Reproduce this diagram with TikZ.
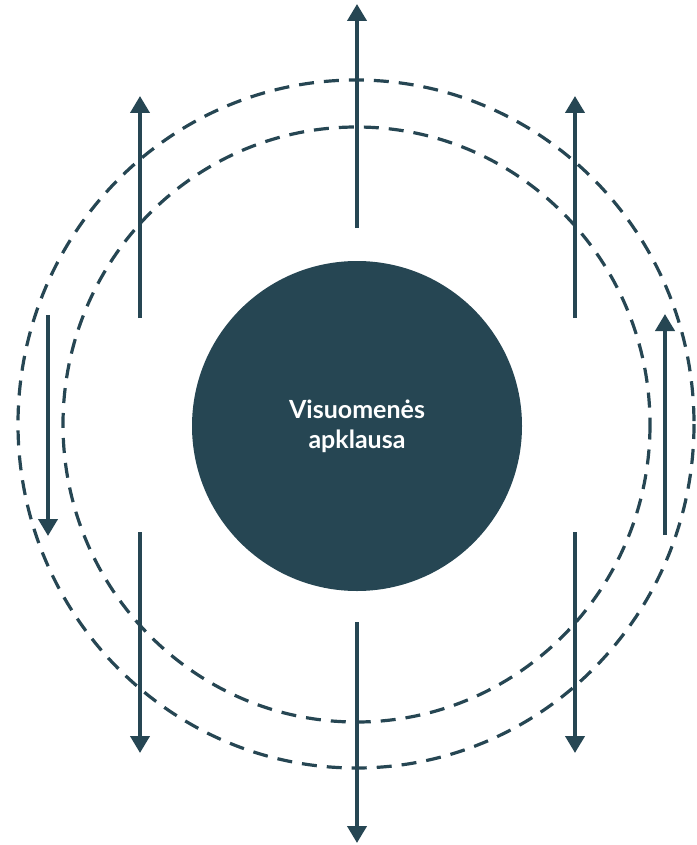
\documentclass[tikz,border=0pt]{standalone}
\usepackage{fontspec}
\setmainfont{Lato}
\usetikzlibrary{arrows.meta,positioning}
\definecolor{tealdark}{RGB}{38,70,83}

\begin{document}
\begin{tikzpicture}[x=1pt,y=-1pt]
  \tikzstyle{hub}=[circle, fill=tealdark, minimum size=330pt, inner sep=0pt, text=white, align=center, font=\bfseries\fontsize{25}{30}\selectfont]
  \tikzstyle{ring}=[draw=tealdark, line width=3.2pt, dash pattern=on 15pt off 10pt]
  \tikzstyle{flow}=[-{Triangle[length=17pt,width=19pt]}, line width=4pt, tealdark]

  \useasboundingbox (0,0) rectangle (696,845);

  % Žiedai
  \draw[ring] (356,424) ellipse [x radius=338, y radius=344];
  \draw[ring] (356.5,424.5) ellipse [x radius=293.5, y radius=297.5];

  % Centras
  \node[hub] (survey) at (357,426) {Visuomenės\\apklausa};

  % Rodyklių galai
  \coordinate (topA) at (357,228);   \coordinate (topB) at (357,4);
  \coordinate (botA) at (357,622);   \coordinate (botB) at (357,843);
  \coordinate (ulA) at (140,318);    \coordinate (ulB) at (140,96);
  \coordinate (urA) at (575,318);    \coordinate (urB) at (575,96);
  \coordinate (llA) at (140,532);    \coordinate (llB) at (140,753);
  \coordinate (lrA) at (575,532);    \coordinate (lrB) at (575,753);
  \coordinate (flA) at (48,315);     \coordinate (flB) at (48,536);
  \coordinate (frA) at (665,535);    \coordinate (frB) at (665,314);

  % Rodyklės
  \draw[flow] (topA) -- (topB);
  \draw[flow] (botA) -- (botB);
  \draw[flow] (ulA) -- (ulB);
  \draw[flow] (urA) -- (urB);
  \draw[flow] (llA) -- (llB);
  \draw[flow] (lrA) -- (lrB);
  \draw[flow] (flA) -- (flB);
  \draw[flow] (frA) -- (frB);
\end{tikzpicture}
\end{document}
